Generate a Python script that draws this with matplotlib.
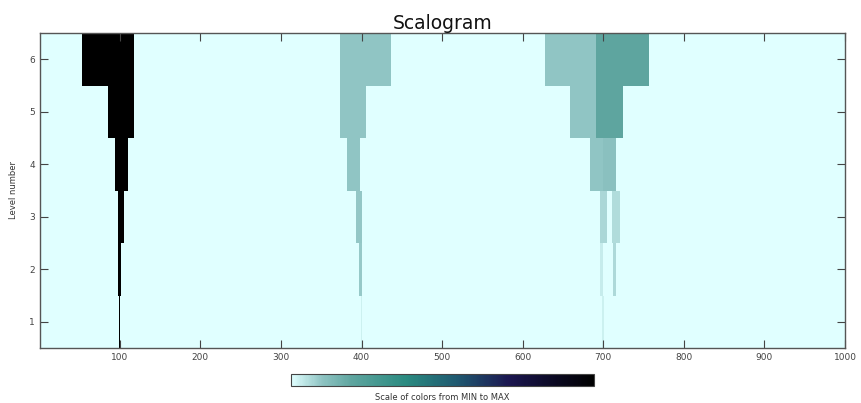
import numpy as np
import matplotlib
matplotlib.use('Agg')
import matplotlib.pyplot as plt
from matplotlib.colors import LinearSegmentedColormap

# signal length and number of decomposition levels
n_samples = 1000
n_levels = 6

# coefficient blocks: level, first sample, last sample, normalised energy
blk_level = [6, 5, 4, 3, 2, 1,
             6, 5, 4, 3, 2, 1,
             6, 6, 5, 5, 4, 4, 3, 3, 2, 2, 1]
blk_start = [54, 86, 94, 98, 98, 99,
             373, 373, 382, 393, 397, 399,
             628, 691, 659, 691, 683, 699, 695, 711, 696, 712, 698]
blk_stop = [117, 117, 109, 105, 101, 100,
            436, 404, 397, 400, 400, 400,
            691, 755, 691, 723, 699, 715, 703, 719, 698, 715, 700]
blk_value = [1.0, 1.0, 1.0, 1.0, 1.0, 1.0,
             0.1, 0.1, 0.1, 0.095, 0.09, 0.025,
             0.1, 0.2, 0.1, 0.2, 0.1, 0.11, 0.07, 0.06, 0.035, 0.065, 0.025]

# light cyan -> teal -> navy -> black
cmap_pos = [0.0, 0.1, 0.2, 0.38, 0.55, 0.72, 0.88, 1.0]
cmap_col = ['#e0ffff', '#8fc4c3', '#5ea59f', '#2a8a80', '#1f5870',
            '#1b1650', '#0a0820', '#000000']
cmap = LinearSegmentedColormap.from_list('scal', list(zip(cmap_pos, cmap_col)))

# build the level x sample matrix
coefs = np.zeros((n_levels, n_samples))
for lev, s0, s1, v in zip(blk_level, blk_start, blk_stop, blk_value):
    coefs[lev - 1, s0 - 1:s1] = v

fig = plt.figure(figsize=(8.61, 4.03), dpi=100)
ax = fig.add_axes([0.0465, 0.1365, 0.935, 0.7816])
im = ax.imshow(coefs, cmap=cmap, vmin=0, vmax=1, aspect='auto', origin='lower',
               interpolation='nearest', extent=[0.5, n_samples + 0.5, 0.5, n_levels + 0.5])
ax.set_xlim(1, n_samples)
ax.set_ylim(0.5, n_levels + 0.5)
ax.set_xticks(np.arange(100, 1001, 100))
ax.set_yticks(np.arange(1, n_levels + 1))
ax.tick_params(direction='in', length=5.5, width=0.8, color='#444444',
               labelsize=6.5, labelcolor='#444444', top=True, right=True)
for sp in ax.spines.values():
    sp.set_color('#555555')
    sp.set_linewidth(1.0)
ax.set_ylabel('Level number', fontsize=6, color='#333333', labelpad=8)
ax.set_title('Scalogram', fontsize=13.5, color='#111111', pad=3)

cax = fig.add_axes([0.338, 0.042, 0.352, 0.030])
cb = fig.colorbar(im, cax=cax, orientation='horizontal')
cb.set_ticks([])
cb.outline.set_edgecolor('#444444')
cb.outline.set_linewidth(0.8)
fig.text(0.514, 0.003, 'Scale of colors from MIN to MAX', fontsize=6,
         color='#333333', ha='center', va='bottom')

fig.savefig('out.png', dpi=100)
